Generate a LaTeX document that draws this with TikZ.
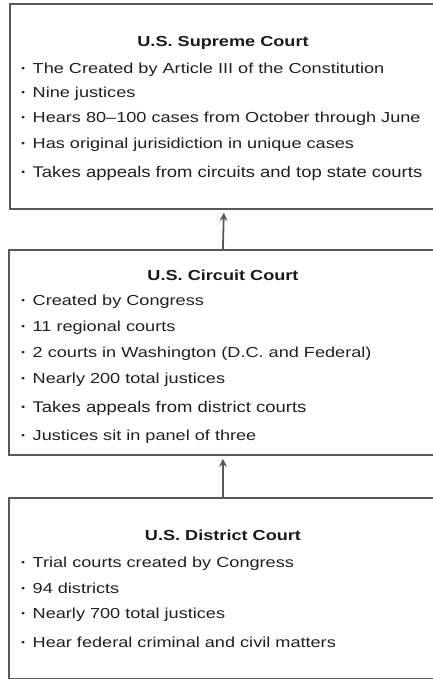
\documentclass[tikz,border=0pt]{standalone}
\usepackage{fontspec}
\setmainfont{Liberation Sans}
\newfontfamily\courtfont[FakeStretch=1.25]{Liberation Sans}
\newfontfamily\courtwide[FakeStretch=1.19]{Liberation Sans}
\usepackage{tikz}
\usetikzlibrary{arrows.meta}

\newcommand{\bul}{\makebox[12pt][l]{\textbf{·}}}

\tikzset{
  courtbox/.style={draw=black!65, line width=1.8pt, rectangle, minimum width=428pt,
    anchor=north west, inner sep=0pt},
  courttitle/.style={anchor=base, inner sep=0pt, text=black!90,
    font=\courtfont\bfseries\fontsize{14.5}{17}\selectfont},
  courtline/.style={anchor=base west, inner sep=0pt, text=black!88,
    font=\courtfont\fontsize{14.5}{17}\selectfont},
  courtbig/.style={courtline, font=\courtwide\fontsize{15.5}{18}\selectfont},
  upto/.style={draw=black!65, line width=1.8pt, -{Stealth[length=8pt,width=8pt]}, shorten >=3pt}
}

\begin{document}
\begin{tikzpicture}[x=1pt,y=-1pt]
  \useasboundingbox (0,0) rectangle (433,679);
  \clip (0,0) rectangle (433,679);

  % Supreme court
  \node[courtbox, minimum height=205pt] (supreme) at (9,3) {};
  \node[courttitle] (s0) at (223,47) {U.S. Supreme Court};
  \node[courtline] (s1) at (20.5,74) {\bul The Created by Article III of the Constitution};
  \node[courtline] (s2) at (20.5,98) {\bul Nine justices};
  \node[courtline] (s3) at (20.5,123) {\bul Hears 80–100 cases from October through June};
  \node[courtline] (s4) at (20.5,149) {\bul Has original jurisidiction in unique cases};
  \node[courtbig] (s5) at (20.5,178) {\bul Takes appeals from circuits and top state courts};

  % Circuit court
  \node[courtbox, minimum height=205pt] (circuit) at (8,249) {};
  \node[courttitle] (c0) at (223,280) {U.S. Circuit Court};
  \node[courtline] (c1) at (20.5,305) {\bul Created by Congress};
  \node[courtline] (c2) at (20.5,331) {\bul 11 regional courts};
  \node[courtline] (c3) at (20.5,357) {\bul 2 courts in Washington (D.C. and Federal)};
  \node[courtline] (c4) at (20.5,383) {\bul Nearly 200 total justices};
  \node[courtbig] (c5) at (20.5,412) {\bul Takes appeals from district courts};
  \node[courtline] (c6) at (20.5,440) {\bul Justices sit in panel of three};

  % District court
  \node[courtbox, minimum height=181pt] (district) at (8,497) {};
  \node[courttitle] (d0) at (223,540) {U.S. District Court};
  \node[courtline] (d1) at (20.5,567) {\bul Trial courts created by Congress};
  \node[courtline] (d2) at (20.5,593) {\bul 94 districts};
  \node[courtline] (d3) at (20.5,618) {\bul Nearly 700 total justices};
  \node[courtline] (d4) at (20.5,647) {\bul Hear federal criminal and civil matters};

  % appeals go up
  \draw[upto] (circuit.north) -- (supreme.south);
  \draw[upto] (district.north) -- (circuit.south);

\end{tikzpicture}
\end{document}
